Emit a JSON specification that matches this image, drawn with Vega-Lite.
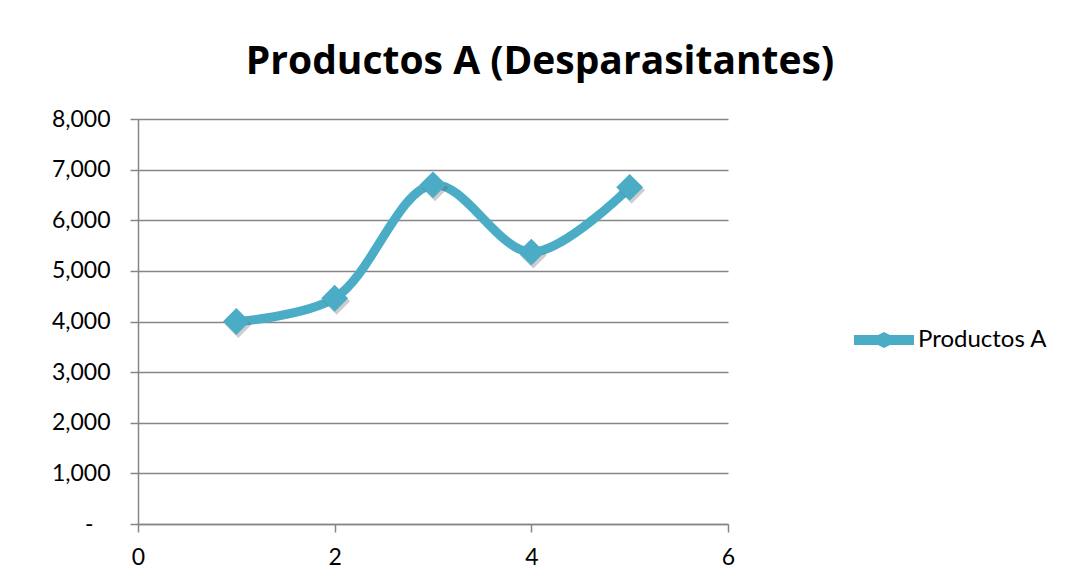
{
  "$schema": "https://vega.github.io/schema/vega-lite/v6.json",
  "autosize": "none",
  "width": 590,
  "height": 405,
  "padding": {"left": 138, "top": 119, "right": 338, "bottom": 61},
  "background": "white",
  "title": {
    "text": "Productos A (Desparasitantes)",
    "font": "Open Sans",
    "fontSize": 39,
    "fontWeight": "bold",
    "color": "#000000",
    "anchor": "middle",
    "baseline": "alphabetic",
    "dx": 107,
    "offset": -5
  },
  "data": {
    "values": [
      {"x": 1, "valor": 4000, "serie": "Productos A"},
      {"x": 2, "valor": 4460, "serie": "Productos A"},
      {"x": 3, "valor": 6700, "serie": "Productos A"},
      {"x": 4, "valor": 5370, "serie": "Productos A"},
      {"x": 5, "valor": 6650, "serie": "Productos A"}
    ]
  },
  "encoding": {
    "x": {
      "field": "x",
      "type": "quantitative",
      "scale": {"domain": [0, 6], "nice": false},
      "axis": {
        "values": [0, 2, 4, 6],
        "title": null,
        "grid": false,
        "domainColor": "#868686",
        "domainWidth": 1.5,
        "tickColor": "#868686",
        "tickWidth": 1.5,
        "tickSize": 8,
        "labelFlush": false,
        "labelFont": "Lato",
        "labelFontSize": 23,
        "labelColor": "#000000",
        "labelPadding": 14
      }
    },
    "y": {
      "field": "valor",
      "type": "quantitative",
      "scale": {"domain": [0, 8000], "nice": false},
      "axis": {
        "values": [0, 1000, 2000, 3000, 4000, 5000, 6000, 7000, 8000],
        "title": null,
        "grid": true,
        "gridColor": "#868686",
        "gridWidth": 1.5,
        "domainColor": "#868686",
        "domainWidth": 1.5,
        "tickColor": "#868686",
        "tickWidth": 1.5,
        "tickSize": 8,
        "labelFont": "Lato",
        "labelFontSize": 23,
        "labelColor": "#000000",
        "labelPadding": {"condition": {"test": "datum.value === 0", "value": 37}, "value": 20},
        "labelExpr": "datum.value === 0 ? '-' : format(datum.value, ',')"
      }
    }
  },
  "layer": [
    {
      "mark": {"type": "line", "interpolate": "catmull-rom", "strokeWidth": 9, "strokeCap": "round", "strokeJoin": "round"},
      "encoding": {
        "color": {
          "field": "serie",
          "type": "nominal",
          "scale": {"range": ["#4BACC6"]},
          "legend": {
            "title": null,
            "orient": "none",
            "legendX": 716,
            "legendY": 191,
            "symbolType": "M-1,-0.167 L-0.2,-0.167 L0,-0.27 L0.2,-0.167 L1,-0.167 L1,0.167 L0.2,0.167 L0,0.27 L-0.2,0.167 L-1,0.167 Z",
            "symbolSize": 3600,
            "symbolFillColor": "#4BACC6",
            "symbolStrokeWidth": 0,
            "labelFont": "Lato",
            "labelFontSize": 24,
            "labelColor": "#000000",
            "labelOffset": 4
          }
        }
      }
    },
    {
      "mark": {"type": "point", "shape": "diamond", "filled": true, "size": 720, "color": "#5a5a5a", "opacity": 0.3, "xOffset": 2, "yOffset": 3}
    },
    {
      "mark": {"type": "point", "shape": "diamond", "filled": true, "size": 720, "color": "#4BACC6", "opacity": 1}
    }
  ],
  "config": {
    "view": {"stroke": null}
  }
}
